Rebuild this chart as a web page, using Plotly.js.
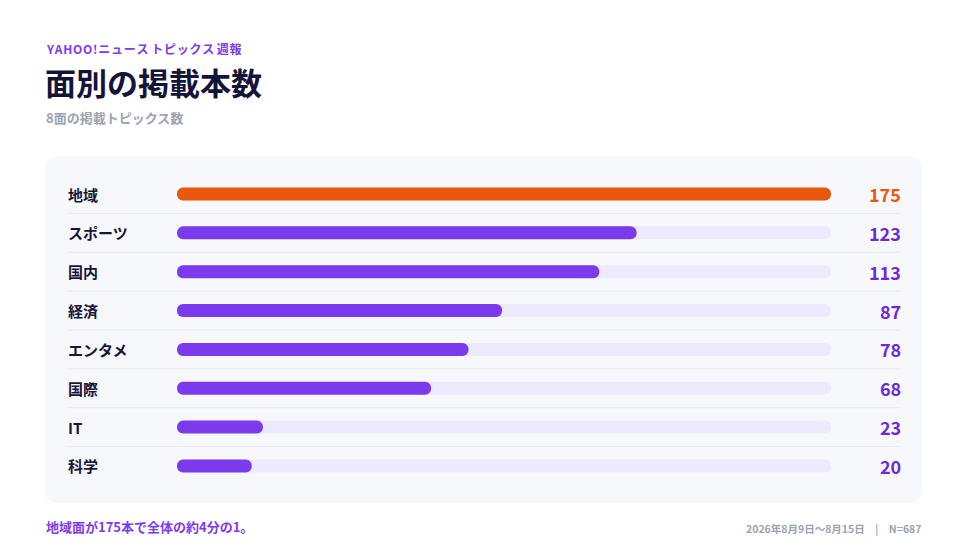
<!DOCTYPE html>
<html><head><meta charset="utf-8">
<script src="https://cdn.plot.ly/plotly-3.0.1.min.js"></script>
<style>html,body{margin:0;padding:0;background:#fff;}#c{width:968px;height:544px;}</style>
</head><body><div id="c"></div>
<script>
const categories = ["地域","スポーツ","国内","経済","エンタメ","国際","IT","科学"];
const counts = [175,123,113,87,78,68,23,20];
const highlight = "地域";
const maxValue = 175;

const W=968,H=544;
const px = x => x/W, py = y => (H-y)/H;
const F = '"Noto Sans CJK JP","Noto Sans",sans-serif';
const PURPLE='#7c3aed', ORANGE='#ea580c', TRACK='#ede9fe';

const X0=177, X1=831, BAR_PX=13;

function roundRect(x0,y0,x1,y1,r){
  const X=v=>px(v), Y=v=>py(v);
  return `M${X(x0+r)},${Y(y0)} L${X(x1-r)},${Y(y0)} Q${X(x1)},${Y(y0)} ${X(x1)},${Y(y0+r)} L${X(x1)},${Y(y1-r)} Q${X(x1)},${Y(y1)} ${X(x1-r)},${Y(y1)} L${X(x0+r)},${Y(y1)} Q${X(x0)},${Y(y1)} ${X(x0)},${Y(y1-r)} L${X(x0)},${Y(y0+r)} Q${X(x0)},${Y(y0)} ${X(x0+r)},${Y(y0)} Z`;
}

const idx = categories.map((_,i)=>i);
const colors = categories.map(c => c===highlight?ORANGE:PURPLE);
const rowW = BAR_PX/38.85;
function barTrace(vals,color){
  return {type:'bar',orientation:'h',y:idx,x:vals,base:idx.map(()=>0),
    marker:{color:color,cornerradius:BAR_PX/2,line:{width:0}},width:rowW,hoverinfo:'skip',showlegend:false};
}
const traces = [ barTrace(categories.map(()=>maxValue),TRACK), barTrace(counts,colors) ];

const shapes = [{type:'path',xref:'paper',yref:'paper',path:roundRect(45,156,922,503,14),
  fillcolor:'#f7f8fc',line:{width:0},layer:'below'}];
for(let i=0;i<categories.length-1;i++){
  shapes.push({type:'line',xref:'paper',yref:'y',x0:px(67),x1:px(900),y0:i+0.5,y1:i+0.5,
    line:{color:'#e9eaf1',width:1},layer:'below'});
}

const ann = [];
categories.forEach((c,i)=>{
  ann.push({xref:'paper',yref:'y',x:px(65.5),y:i,text:c,showarrow:false,xanchor:'left',yanchor:'middle',
    font:{family:F,size:15,color:'#16163a',weight:700}});
  ann.push({xref:'paper',yref:'y',x:px(903),y:i,text:String(counts[i]),showarrow:false,xanchor:'right',yanchor:'middle',
    font:{family:F,size:18,color:c===highlight?ORANGE:'#6d28d9',weight:700}});
});
const txt=(x,y,t,size,color,anchor,weight)=>({xref:'paper',yref:'paper',x:px(x),y:py(y),text:t,showarrow:false,
  xanchor:anchor||'left',yanchor:'middle',font:{family:F,size:size,color:color,weight:weight||700}});
ann.push(txt(44,48,'Y\u200AA\u200AH\u200AO\u200AO\u200A!\u200Aニ\u200Aュ\u200Aー\u200Aス ト\u200Aピ\u200Aッ\u200Aク\u200Aス 週\u200A報',12,'#7c3aed'));
ann.push(txt(43,81,'面別の掲載本数',31,'#14143a'));
ann.push(txt(44,117,'8面の掲載トピックス数',13,'#9ca3af'));
ann.push(txt(44,526,'地域面が175本で全体の約4分の1。',13,'#7c3aed'));
ann.push(txt(924,528,'2026年8月9日～8月15日　|　N=687',10.5,'#9ca3af','right',600));

const layout = {width:W,height:H,margin:{l:0,r:0,t:0,b:0},paper_bgcolor:'#fff',plot_bgcolor:'rgba(0,0,0,0)',
  barmode:'overlay',
  xaxis:{domain:[px(X0),px(X1)],range:[0,maxValue],visible:false,fixedrange:true},
  yaxis:{type:'linear',domain:[py(485.4),py(174.6)],range:[7.5,-0.5],visible:false,fixedrange:true},
  shapes:shapes,annotations:ann};
Plotly.newPlot('c',traces,layout,{displayModeBar:false,staticPlot:true});
</script></body></html>
